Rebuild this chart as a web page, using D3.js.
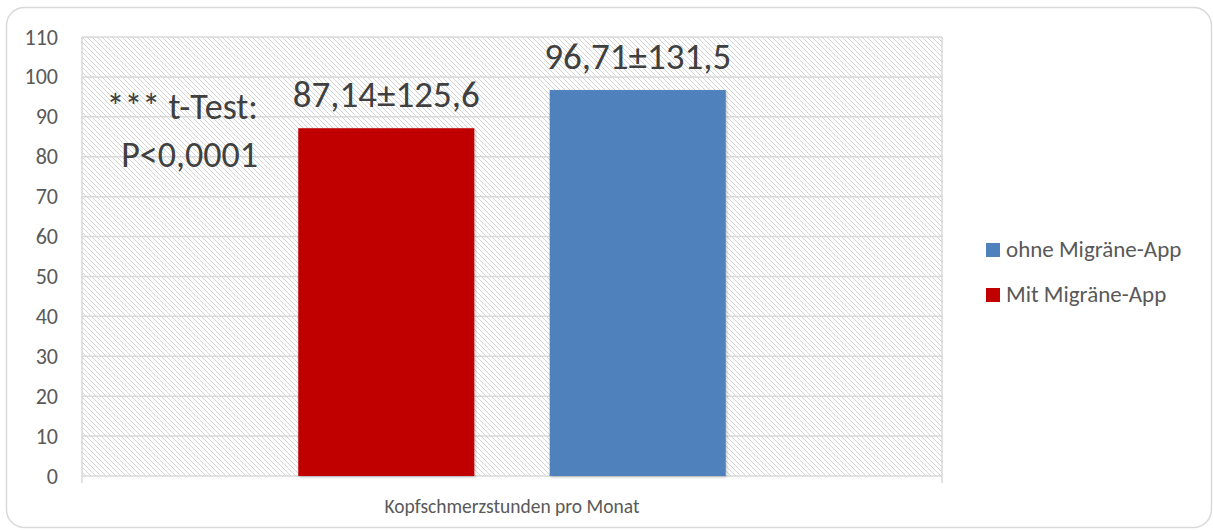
<!DOCTYPE html>
<html>
<head>
<meta charset="utf-8">
<script src="https://cdn.jsdelivr.net/npm/d3@7"></script>
<style>
  body { margin: 0; background: #fff; }
  text { font-family: Calibri, Carlito, Lato, sans-serif; }
</style>
</head>
<body>
<div id="chart"></div>
<script>
// chart data
var categories = ["Kopfschmerzstunden pro Monat"];
var seriesNames = ["Mit Migräne-App", "ohne Migräne-App"];
var seriesValues = [87.14, 96.71];
var valueLabels = ["87,14\u00B1125,6", "96,71\u00B1131,5"];
var seriesColors = ["#C00000", "#4F81BD"];
var yTicks = [0, 10, 20, 30, 40, 50, 60, 70, 80, 90, 100, 110];
var noteLines = ["*** t-Test:", "P<0,0001"];

// dimensions
var W = 1213, H = 530;
var margin = {top: 37, right: 271, bottom: 54, left: 82},
    width = W - margin.left - margin.right,
    height = H - margin.top - margin.bottom;

var svg = d3.select("#chart")
  .append("svg")
    .attr("width", W)
    .attr("height", H);

// hatch pattern for the plot background
var defs = svg.append("defs");
defs.append("pattern")
    .attr("id", "hatch")
    .attr("patternUnits", "userSpaceOnUse")
    .attr("width", 5)
    .attr("height", 5)
  .append("path")
    .attr("d", "M0,0L5,5M-1,4L1,6M4,-1L6,1")
    .attr("stroke", "#d4d4d4")
    .attr("stroke-width", 1);

var shadow = defs.append("filter")
    .attr("id", "shadow")
    .attr("x", "-10%").attr("y", "-10%")
    .attr("width", "120%").attr("height", "120%");
shadow.append("feDropShadow")
    .attr("dx", 1).attr("dy", 1)
    .attr("stdDeviation", 1.5)
    .attr("flood-color", "#000")
    .attr("flood-opacity", 0.25);

// outer rounded frame
svg.append("rect")
    .attr("x", 6.5).attr("y", 7.5)
    .attr("width", 1205).attr("height", 520)
    .attr("rx", 18).attr("ry", 18)
    .attr("fill", "#fff")
    .attr("stroke", "#d9d9d9")
    .attr("stroke-width", 1.5);

var g = svg.append("g")
    .attr("transform", "translate(" + margin.left + "," + margin.top + ")");

// scales
var x0 = d3.scaleBand()
    .domain(categories)
    .range([0, width]);

var x1 = d3.scaleBand()
    .domain(seriesNames)
    .range([0, x0.bandwidth()])
    .paddingInner(0.3)
    .paddingOuter(0.86);

var y = d3.scaleLinear()
    .domain([0, 110])
    .range([height, 0]);

// plot background
g.append("rect")
    .attr("width", width)
    .attr("height", height)
    .attr("fill", "url(#hatch)");

// gridlines
g.selectAll(".grid")
  .data(yTicks)
  .enter()
  .append("line")
    .attr("x1", 0).attr("x2", width)
    .attr("y1", function(d) { return y(d); })
    .attr("y2", function(d) { return y(d); })
    .attr("stroke", "#d9d9d9")
    .attr("stroke-width", 1.5);

// vertical edge lines (category axis ticks)
g.selectAll(".edge")
  .data([0, width])
  .enter()
  .append("line")
    .attr("x1", function(d) { return d; })
    .attr("x2", function(d) { return d; })
    .attr("y1", 0).attr("y2", height + 7)
    .attr("stroke", "#d9d9d9")
    .attr("stroke-width", 1.5);

// Y axis
var yAxis = g.append("g")
    .call(d3.axisLeft(y).tickValues(yTicks).tickSize(0).tickPadding(24));
yAxis.select(".domain").remove();
yAxis.selectAll("text")
    .attr("fill", "#595959")
    .style("font-size", "22px");

// bars
var cat = g.selectAll(".cat")
  .data(categories)
  .enter()
  .append("g")
    .attr("transform", function(d) { return "translate(" + x0(d) + ",0)"; });

cat.selectAll("rect")
  .data(seriesNames.map(function(s, i) { return {name: s, value: seriesValues[i], label: valueLabels[i], color: seriesColors[i]}; }))
  .enter()
  .append("rect")
    .attr("x", function(d) { return x1(d.name); })
    .attr("y", function(d) { return y(d.value); })
    .attr("width", x1.bandwidth())
    .attr("height", function(d) { return height - y(d.value); })
    .attr("fill", function(d) { return d.color; })
    .attr("filter", "url(#shadow)");

// value labels
cat.selectAll(".vlabel")
  .data(seriesNames.map(function(s, i) { return {name: s, value: seriesValues[i], label: valueLabels[i]}; }))
  .enter()
  .append("text")
    .attr("x", function(d) { return x1(d.name) + x1.bandwidth() / 2; })
    .attr("y", function(d) { return y(d.value) - 21; })
    .attr("text-anchor", "middle")
    .attr("fill", "#404040")
    .style("font-size", "37px")
    .text(function(d) { return d.label; });

// t-test note
g.selectAll(".note")
  .data(noteLines)
  .enter()
  .append("text")
    .attr("x", 176)
    .attr("y", function(d, i) { return 82 + i * 48; })
    .attr("text-anchor", "end")
    .attr("fill", "#404040")
    .style("font-size", "36px")
    .text(function(d) { return d; });

// x axis label
g.selectAll(".xlabel")
  .data(categories)
  .enter()
  .append("text")
    .attr("x", function(d) { return x0(d) + x0.bandwidth() / 2; })
    .attr("y", height + 37)
    .attr("text-anchor", "middle")
    .attr("fill", "#595959")
    .style("font-size", "19.5px")
    .text(function(d) { return d; });

// legend
var legendItems = seriesNames.map(function(s, i) { return {name: s, color: seriesColors[i]}; }).reverse();
var legend = svg.selectAll(".legend")
  .data(legendItems)
  .enter()
  .append("g")
    .attr("transform", function(d, i) { return "translate(986," + (243 + i * 45) + ")"; });
legend.append("rect")
    .attr("width", 14).attr("height", 14)
    .attr("fill", function(d) { return d.color; });
legend.append("text")
    .attr("x", 20)
    .attr("y", 14)
    .attr("fill", "#595959")
    .style("font-size", "23px")
    .text(function(d) { return d.name; });
</script>
</body>
</html>
